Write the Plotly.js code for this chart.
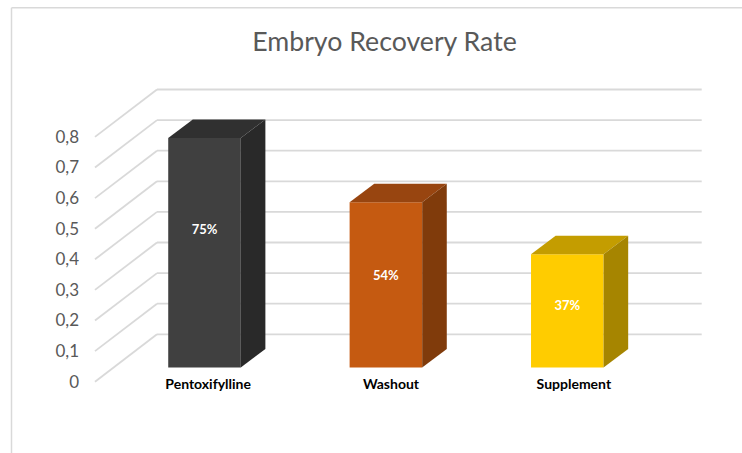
<!DOCTYPE html>
<html>
<head>
<meta charset="utf-8">
<script src="https://cdn.plot.ly/plotly-3.0.1.min.js"></script>
<style>html,body{margin:0;padding:0;background:#fff}#chart{width:742px;height:453px}</style>
</head>
<body>
<div id="chart"></div>
<script>
const categories = ["Pentoxifylline", "Washout", "Supplement"];
const values = [0.75, 0.54, 0.37];
const valueLabels = ["75%", "54%", "37%"];
const valueTicks = [0, 0.1, 0.2, 0.3, 0.4, 0.5, 0.6, 0.7, 0.8];
const labelHeights = [0.4466, 0.296, 0.198];
const frontColors = ["#404040", "#C55A11", "#FFCC00"];
const topColors = ["#303030", "#984510", "#C49D00"];
const sideColors = ["#292929", "#803B0B", "#A68500"];

// Pseudo-3D projection, in axis units
const W = 742, H = 453;
const plot = {l: 82, r: 720, t: 70, b: 400};
const pxPerCat = 181.4, cat0Px = 204.5, pxPerVal = 306, zeroPx = 381.7;
const barHalf = 0.2;
const floorLift = 14.2 / pxPerVal;     // front plane of bars above tick plane
const depthX = 24.6 / pxPerCat, depthY = 18.5 / pxPerVal;  // bar depth
const wallLift = 47.4 / pxPerVal;      // back wall above tick plane
const wallX0 = (157 - cat0Px) / pxPerCat, wallX1 = (701.7 - cat0Px) / pxPerCat;
const frontX = (95 - cat0Px) / pxPerCat;

const idx = categories.map((_, i) => i);
const traces = [];
traces.push({
  type: "bar", x: idx, y: values,
  base: values.map(() => floorLift), width: barHalf * 2,
  marker: {color: frontColors, line: {width: 0}},
  hoverinfo: "skip", showlegend: false
});
idx.forEach(i => {
  const v = values[i] + floorLift, b = floorLift;
  const xl = i - barHalf, xr = i + barHalf;
  traces.push({
    type: "scatter", mode: "lines", fill: "toself", fillcolor: topColors[i],
    x: [xl, xr, xr + depthX, xl + depthX, xl],
    y: [v, v, v + depthY, v + depthY, v],
    line: {width: 0, color: topColors[i]}, hoverinfo: "skip", showlegend: false
  });
  traces.push({
    type: "scatter", mode: "lines", fill: "toself", fillcolor: sideColors[i],
    x: [xr, xr + depthX, xr + depthX, xr, xr],
    y: [b, b + depthY, v + depthY, v, b],
    line: {width: 0, color: sideColors[i]}, hoverinfo: "skip", showlegend: false
  });
});
traces.push({
  type: "scatter", mode: "text", x: idx, y: labelHeights.map(h => h + floorLift),
  text: valueLabels, textposition: "middle center",
  textfont: {family: "Lato, sans-serif", size: 13, color: "#ffffff", weight: 700},
  hoverinfo: "skip", showlegend: false
});

const gridLine = {color: "#d9d9d9", width: 1.8};
const shapes = [];
valueTicks.forEach(t => {
  shapes.push({type: "line", layer: "below", xref: "x", yref: "y",
    x0: frontX, y0: t, x1: wallX0, y1: t + wallLift, line: gridLine});
  shapes.push({type: "line", layer: "below", xref: "x", yref: "y",
    x0: wallX0, y0: t + wallLift, x1: wallX1, y1: t + wallLift, line: gridLine});
});
const px = x => (x - plot.l) / (plot.r - plot.l);
const py = y => (plot.b - y) / (plot.b - plot.t);
shapes.push({type: "line", layer: "below", xref: "paper", yref: "paper",
  x0: px(11.5), y0: py(7.7), x1: px(742), y1: py(7.7), line: {color: "#d9d9d9", width: 1.5}});
shapes.push({type: "line", layer: "below", xref: "paper", yref: "paper",
  x0: px(11.5), y0: py(7.7), x1: px(11.5), y1: py(453), line: {color: "#d9d9d9", width: 1.5}});

const layout = {
  width: W, height: H,
  paper_bgcolor: "#ffffff", plot_bgcolor: "rgba(0,0,0,0)",
  separators: ",.",
  margin: {l: plot.l, r: W - plot.r, t: plot.t, b: H - plot.b, pad: 0},
  showlegend: false,
  title: {text: "Embryo Recovery Rate", x: 384.5 / W, xanchor: "center",
    y: 1 - 42 / H, yanchor: "middle",
    font: {family: "Lato, sans-serif", size: 26.7, color: "#595959"}},
  xaxis: {
    range: [(plot.l - cat0Px) / pxPerCat, (plot.r - cat0Px) / pxPerCat],
    tickmode: "array", tickvals: idx.map(i => i + 0.02 + i * 0.008), ticktext: categories,
    tickfont: {family: "Lato, sans-serif", size: 14, color: "#000000", weight: 700},
    showgrid: false, zeroline: false, showline: false, ticks: "",
    anchor: "free", position: py(374)
  },
  yaxis: {
    range: [(zeroPx - plot.b) / pxPerVal, (zeroPx - plot.t) / pxPerVal],
    tickmode: "array", tickvals: valueTicks,
    tickfont: {family: "Lato, sans-serif", size: 17, color: "#595959"},
    ticklabelstandoff: 2,
    showgrid: false, zeroline: false, showline: false, ticks: ""
  },
  shapes: shapes
};
Plotly.newPlot("chart", traces, layout, {displayModeBar: false, staticPlot: true});
</script>
</body>
</html>
